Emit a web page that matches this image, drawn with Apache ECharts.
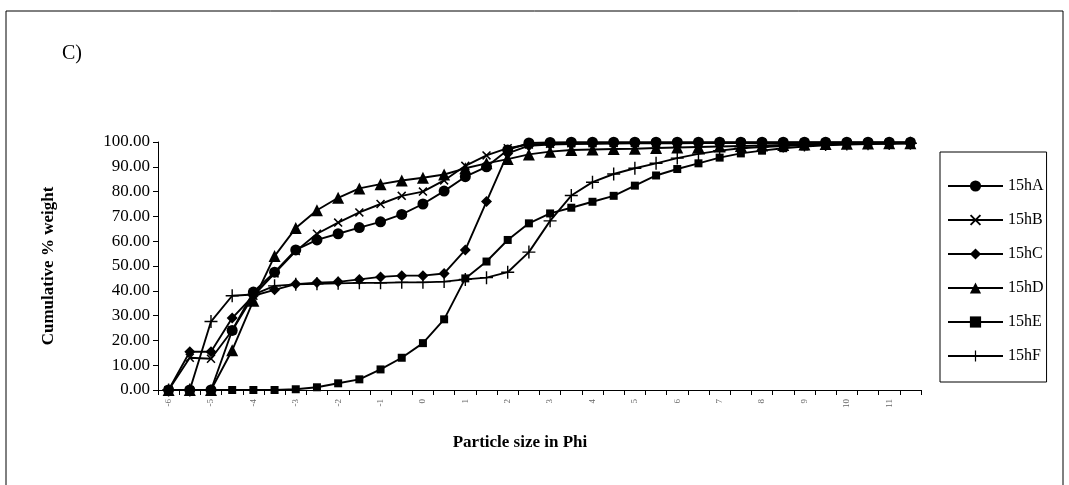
<!DOCTYPE html>
<html>
<head>
<meta charset="utf-8">
<script src="https://cdn.jsdelivr.net/npm/echarts@6/dist/echarts.min.js"></script>
<style>
html,body{margin:0;padding:0;background:#fff;}
#chart{width:1069px;height:485px;}
</style>
</head>
<body>
<div id="chart"></div>
<script>
// Particle size categories (phi), -6 to 11.5 in 0.5 steps
const categories = ['-6','-5.5','-5','-4.5','-4','-3.5','-3','-2.5','-2','-1.5','-1','-0.5','0','0.5','1','1.5','2','2.5','3','3.5','4','4.5','5','5.5','6','6.5','7','7.5','8','8.5','9','9.5','10','10.5','11','11.5'];

const s15hA = [0,0,0,24,39.5,47.5,56.5,60.5,63,65.5,67.8,70.8,75,80.2,86,90,96.8,99.6,99.8,99.9,99.9,99.9,99.9,99.9,99.9,99.9,99.9,99.9,99.9,99.9,99.9,99.9,99.9,99.9,99.9,99.9];
const s15hB = [0,13,12.6,24,38,47,56,63,67.5,71.6,75,78.3,80,84.5,90.4,94.6,97.5,99,99.3,99.5,99.5,99.6,99.6,99.6,99.6,99.6,99.7,99.7,99.7,99.7,99.7,99.7,99.7,99.7,99.7,99.7];
const s15hC = [0,15.4,15.4,29,38,40.4,42.7,43.3,43.6,44.6,45.6,46.1,46.1,47,56.5,76,95.4,98.5,99,99.2,99.3,99.4,99.5,99.5,99.5,99.6,99.6,99.6,99.6,99.6,99.7,99.7,99.7,99.7,99.7,99.7];
const s15hD = [0,0,0,16,36,54,65.3,72.5,77.5,81.3,83,84.5,85.6,86.9,89.4,91.4,93.1,95,96.1,96.8,97,97.2,97.3,97.6,97.8,98,98.2,98.4,98.6,98.8,99,99.2,99.3,99.4,99.5,99.5];
const s15hE = [0,0,0,0,0,0,0.3,1.1,2.7,4.3,8.3,13,18.9,28.5,45,51.8,60.5,67.2,71.2,73.5,75.9,78.3,82.4,86.5,89.1,91.4,93.7,95.4,96.5,97.5,98.2,98.7,99,99.2,99.4,99.5];
const s15hF = [0,0,27.6,38,38.5,42,42.6,42.8,43,43.2,43.2,43.4,43.4,43.7,44.6,45.3,47.5,55.6,68.2,78.4,83.8,87.1,89.4,91.4,93.5,95.2,96.5,97.5,98,98.4,98.8,99,99.2,99.3,99.4,99.5];

const seriesNames = ['15hA','15hB','15hC','15hD','15hE','15hF'];

const serif = "'Liberation Serif','DejaVu Serif',serif";
const xShape = 'path://M0,1.2L1.2,0L5,3.8L8.8,0L10,1.2L6.2,5L10,8.8L8.8,10L5,6.2L1.2,10L0,8.8L3.8,5Z';
const plusShape = 'path://M5.35,0H6.65V5.35H12V6.65H6.65V12H5.35V6.65H0V5.35H5.35Z';

const symbolDefs = [
  {symbol:'circle', size:11},
  {symbol:xShape, size:9},
  {symbol:'diamond', size:11},
  {symbol:'triangle', size:12},
  {symbol:'rect', size:8},
  {symbol:plusShape, size:13}
];
const dataSets = [s15hA, s15hB, s15hC, s15hD, s15hE, s15hF];

const chart = echarts.init(document.getElementById('chart'), null, {renderer:'canvas'});
chart.setOption({
  animation:false,
  backgroundColor:'#fff',
  grid:{left:158, right:148, top:142, bottom:95, containLabel:false},
  graphic:[
    {type:'rect', shape:{x:6, y:11, width:1057, height:480}, style:{fill:'none', stroke:'#000', lineWidth:1}, silent:true},
    {type:'text', left:62, top:44, style:{text:'C)', font:"20px 'Liberation Serif'", fill:'#000'}},
    {type:'text', x:520, y:443, style:{text:'Particle size in Phi', font:"bold 17px 'Liberation Serif'", fill:'#000', align:'center', verticalAlign:'middle'}}
  ],
  legend:{
    orient:'vertical', left:940, top:152,
    padding:[26,3,18,7],
    itemGap:18, itemWidth:55, itemHeight:14,
    borderColor:'#000', borderWidth:1, borderRadius:0,
    textStyle:{fontFamily:serif, fontSize:16, color:'#000', lineHeight:16},
    data:seriesNames
  },
  xAxis:{
    type:'category', data:categories, boundaryGap:true,
    axisLine:{lineStyle:{color:'#000', width:1}},
    axisTick:{show:true, length:5, lineStyle:{color:'#000'}, interval:0},
    axisLabel:{interval:1, rotate:90, fontSize:9, color:'#666', fontFamily:serif, margin:9},
    splitLine:{show:false}
  },
  yAxis:{
    type:'value', min:0, max:100, interval:10,
    name:'Cumulative % weight', nameLocation:'middle', nameGap:101,
    nameTextStyle:{fontFamily:serif, fontSize:17, fontWeight:'bold', color:'#000'},
    axisLine:{show:true, lineStyle:{color:'#000', width:1}},
    axisTick:{show:true, length:5, lineStyle:{color:'#000'}},
    axisLabel:{fontFamily:serif, fontSize:17, color:'#000', margin:8, formatter:v=>v.toFixed(2)},
    splitLine:{show:false}
  },
  series: seriesNames.map((n,i)=>({
    name:n, type:'line', data:dataSets[i],
    symbol:symbolDefs[i].symbol, symbolSize:symbolDefs[i].size, showAllSymbol:true,
    lineStyle:{color:'#000', width:1.9},
    itemStyle:{color:'#000', borderColor:'#000', borderWidth:0},
    emphasis:{disabled:true}
  }))
});
</script>
</body>
</html>
